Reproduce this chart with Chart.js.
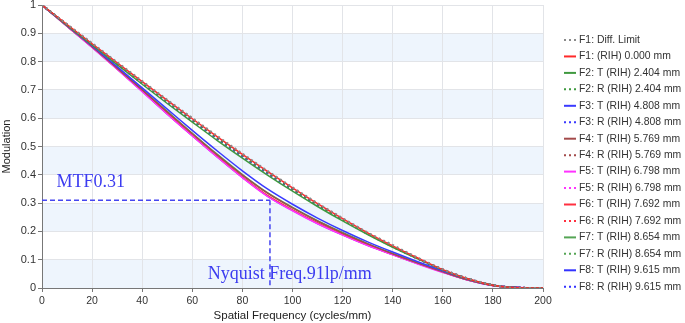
<!DOCTYPE html>
<html><head><meta charset="utf-8">
<script src="https://cdn.jsdelivr.net/npm/chart.js@4"></script>
<style>html,body{margin:0;padding:0;background:#fff}#wrap{width:685px;height:323px;position:relative}</style>
</head><body><div id="wrap"><canvas id="c" width="685" height="323"></canvas></div>
<script>
// ---- data ----
const freqs = [0,10,20,30,40,50,60,70,80,90,100,110,120,130,140,150,160,170,180,190,200];
const diffLimit = [1,0.932,0.865,0.798,0.731,0.665,0.601,0.537,0.475,0.414,0.356,0.300,0.247,0.196,0.152,0.107,0.066,0.034,0.011,0.000,0.000];
const f1 = [1,0.931,0.863,0.796,0.729,0.663,0.598,0.534,0.472,0.412,0.354,0.298,0.245,0.195,0.149,0.106,0.065,0.033,0.010,0.001,0];
const f2T = [1,0.929,0.859,0.789,0.720,0.652,0.586,0.521,0.459,0.399,0.342,0.288,0.237,0.189,0.144,0.103,0.064,0.032,0.010,0.001,0];
const f2R = [1,0.930,0.862,0.794,0.727,0.660,0.595,0.531,0.469,0.409,0.351,0.296,0.243,0.193,0.147,0.105,0.065,0.033,0.010,0.001,0];
const f3T = [1,0.928,0.856,0.782,0.707,0.632,0.557,0.484,0.414,0.350,0.296,0.247,0.203,0.163,0.127,0.093,0.061,0.031,0.010,0.002,0];
const f3R = [1,0.930,0.861,0.792,0.724,0.657,0.592,0.528,0.466,0.406,0.349,0.294,0.242,0.192,0.147,0.104,0.065,0.033,0.010,0.001,0];
const f4T = [1,0.926,0.853,0.777,0.700,0.622,0.545,0.470,0.399,0.335,0.283,0.236,0.194,0.156,0.121,0.088,0.057,0.029,0.009,0.002,0];
const f4R = [1,0.930,0.861,0.793,0.725,0.659,0.593,0.529,0.467,0.407,0.350,0.295,0.242,0.193,0.147,0.104,0.065,0.033,0.010,0.001,0];
const f5T = [1,0.925,0.850,0.773,0.694,0.614,0.537,0.462,0.390,0.324,0.273,0.227,0.187,0.150,0.117,0.085,0.055,0.028,0.008,0.002,0];
const f5R = [1,0.930,0.862,0.794,0.726,0.660,0.594,0.530,0.468,0.408,0.350,0.295,0.243,0.193,0.147,0.105,0.065,0.033,0.010,0.001,0];
const f6T = [1,0.925,0.851,0.774,0.696,0.616,0.539,0.464,0.392,0.327,0.276,0.230,0.189,0.152,0.118,0.086,0.056,0.028,0.009,0.002,0];
const f6R = [1,0.931,0.863,0.795,0.728,0.662,0.597,0.533,0.471,0.411,0.353,0.298,0.245,0.195,0.149,0.106,0.066,0.033,0.010,0.001,0];
const f7T = [1,0.926,0.853,0.778,0.701,0.624,0.547,0.472,0.401,0.337,0.285,0.238,0.196,0.157,0.122,0.089,0.058,0.030,0.009,0.002,0];
const f7R = [1,0.930,0.861,0.792,0.724,0.658,0.592,0.528,0.466,0.406,0.349,0.294,0.242,0.192,0.146,0.104,0.065,0.033,0.010,0.001,0];
const f8T = [1,0.925,0.851,0.774,0.695,0.615,0.538,0.463,0.391,0.325,0.274,0.228,0.188,0.151,0.118,0.086,0.056,0.028,0.009,0.002,0];
const f8R = [1,0.929,0.860,0.791,0.723,0.656,0.591,0.527,0.465,0.405,0.348,0.293,0.241,0.192,0.146,0.104,0.064,0.032,0.010,0.001,0];

const seriesLabels = ['F1: Diff. Limit','F1: (RIH) 0.000 mm','F2: T (RIH) 2.404 mm','F2: R (RIH) 2.404 mm',
  'F3: T (RIH) 4.808 mm','F3: R (RIH) 4.808 mm','F4: T (RIH) 5.769 mm','F4: R (RIH) 5.769 mm',
  'F5: T (RIH) 6.798 mm','F5: R (RIH) 6.798 mm','F6: T (RIH) 7.692 mm','F6: R (RIH) 7.692 mm',
  'F7: T (RIH) 8.654 mm','F7: R (RIH) 8.654 mm','F8: T (RIH) 9.615 mm','F8: R (RIH) 9.615 mm'];
const seriesValues = [diffLimit,f1,f2T,f2R,f3T,f3R,f4T,f4R,f5T,f5R,f6T,f6R,f7T,f7R,f8T,f8R];
const seriesColors = ['#8a8a8a','#ff2a2a','#3f993f','#3f993f','#3a3aff','#3a3aff','#a34a4a','#a34a4a',
  '#ff33ff','#ff33ff','#ff3040','#ff3040','#55a555','#55a555','#3333ff','#3333ff'];
const seriesDotted = [true,false,false,true,false,true,false,true,false,true,false,true,false,true,false,true];

const nyquistFreq = 91;
const mtfAtNyquist = 0.31;
const mtfLabel = 'MTF0.31';
const nyqLabel = 'Nyquist Freq.91lp/mm';
const mtfLabelPos = {x: 5.8, y: 0.372};
const nyqLabelPos = {x: 66.2, y: 0.047};
const bandStarts = [0, 0.2, 0.4, 0.6, 0.8];
const bandHeight = 0.1;

// ---- plugins ----
const bandsBg = {
  id: 'bandsBg',
  beforeDraw(chart) {
    const {ctx, chartArea: a, scales: {y}} = chart;
    ctx.save();
    ctx.fillStyle = '#eef5fd';
    bandStarts.forEach(b => {
      const y0 = y.getPixelForValue(b), y1 = y.getPixelForValue(b + bandHeight);
      ctx.fillRect(a.left, y1, a.right - a.left, y0 - y1);
    });
    ctx.restore();
  }
};
const annotPlugin = {
  id: 'annot',
  afterDatasetsDraw(chart) {
    const {ctx, scales: {x, y}} = chart;
    ctx.save();
    ctx.strokeStyle = '#4646f0';
    ctx.lineWidth = 1.5;
    ctx.setLineDash([5, 3]);
    const px = x.getPixelForValue(nyquistFreq), py = y.getPixelForValue(mtfAtNyquist);
    ctx.beginPath();
    ctx.moveTo(x.getPixelForValue(0), py); ctx.lineTo(px, py);
    ctx.moveTo(px, py); ctx.lineTo(px, y.getPixelForValue(0));
    ctx.stroke();
    ctx.setLineDash([]);
    ctx.fillStyle = '#3c3cf0';
    ctx.font = '18px "Liberation Serif", serif';
    ctx.textBaseline = 'middle';
    ctx.textAlign = 'left';
    ctx.fillText(mtfLabel, x.getPixelForValue(mtfLabelPos.x), y.getPixelForValue(mtfLabelPos.y));
    ctx.fillText(nyqLabel, x.getPixelForValue(nyqLabelPos.x), y.getPixelForValue(nyqLabelPos.y));
    ctx.restore();
  }
};
const legendPlugin = {
  id: 'customLegend',
  afterDraw(chart) {
    const {ctx} = chart;
    ctx.save();
    ctx.font = '10.4px "Liberation Sans", Arial, sans-serif';
    ctx.textBaseline = 'middle';
    ctx.textAlign = 'left';
    chart.data.datasets.forEach((ds, i) => {
      const yy = 40 + i * 16.45;
      ctx.strokeStyle = ds.borderColor;
      ctx.lineWidth = 2;
      ctx.setLineDash(seriesDotted[i] ? [2, 3] : []);
      ctx.beginPath(); ctx.moveTo(564, yy); ctx.lineTo(576, yy); ctx.stroke();
      ctx.setLineDash([]);
      ctx.fillStyle = '#333';
      ctx.fillText(ds.label, 579, yy);
    });
    ctx.restore();
  }
};

const datasets = seriesValues.map((vals, i) => ({
  label: seriesLabels[i],
  data: vals.map((v, j) => ({x: freqs[j], y: v})),
  borderColor: seriesColors[i],
  backgroundColor: seriesColors[i],
  borderWidth: seriesDotted[i] ? 2 : 1.5,
  borderDash: seriesDotted[i] ? [2, 3] : [],
  pointRadius: 0,
  fill: false,
  cubicInterpolationMode: 'monotone'
}));

const fam = '"Liberation Sans", Arial, sans-serif';
new Chart(document.getElementById('c'), {
  type: 'line',
  data: {datasets},
  plugins: [bandsBg, annotPlugin, legendPlugin],
  options: {
    responsive: false,
    animation: false,
    devicePixelRatio: 1,
    layout: {padding: {top: 5, right: 142, left: 0, bottom: 0}},
    plugins: {legend: {display: false}, tooltip: {enabled: false}},
    scales: {
      x: {
        type: 'linear', min: 0, max: 200,
        ticks: {stepSize: 20, color: '#333', font: {size: 10.5, family: fam}, padding: 3, maxRotation: 0},
        grid: {color: '#e2e4e8', tickColor: '#777', tickLength: 4},
        border: {color: '#777', width: 1},
        title: {display: true, text: 'Spatial Frequency (cycles/mm)', color: '#222', font: {size: 11.5, family: fam}, padding: {top: 6, bottom: 0}},
        afterFit(s) { s.height = 35; s.paddingLeft = 0; }
      },
      y: {
        min: 0, max: 1,
        ticks: {stepSize: 0.1, color: '#333', font: {size: 11, family: fam}, padding: 2,
          callback: v => String(Number(v.toFixed(1)))},
        grid: {color: '#e2e4e8', tickColor: '#777', tickLength: 4},
        border: {color: '#777', width: 1},
        title: {display: true, text: 'Modulation', color: '#222', font: {size: 11, family: fam}, padding: {top: 0, bottom: 2}},
        afterFit(s) { s.width = 42; s.paddingTop = 0; s.paddingBottom = 0; }
      }
    }
  }
});
</script></body></html>
